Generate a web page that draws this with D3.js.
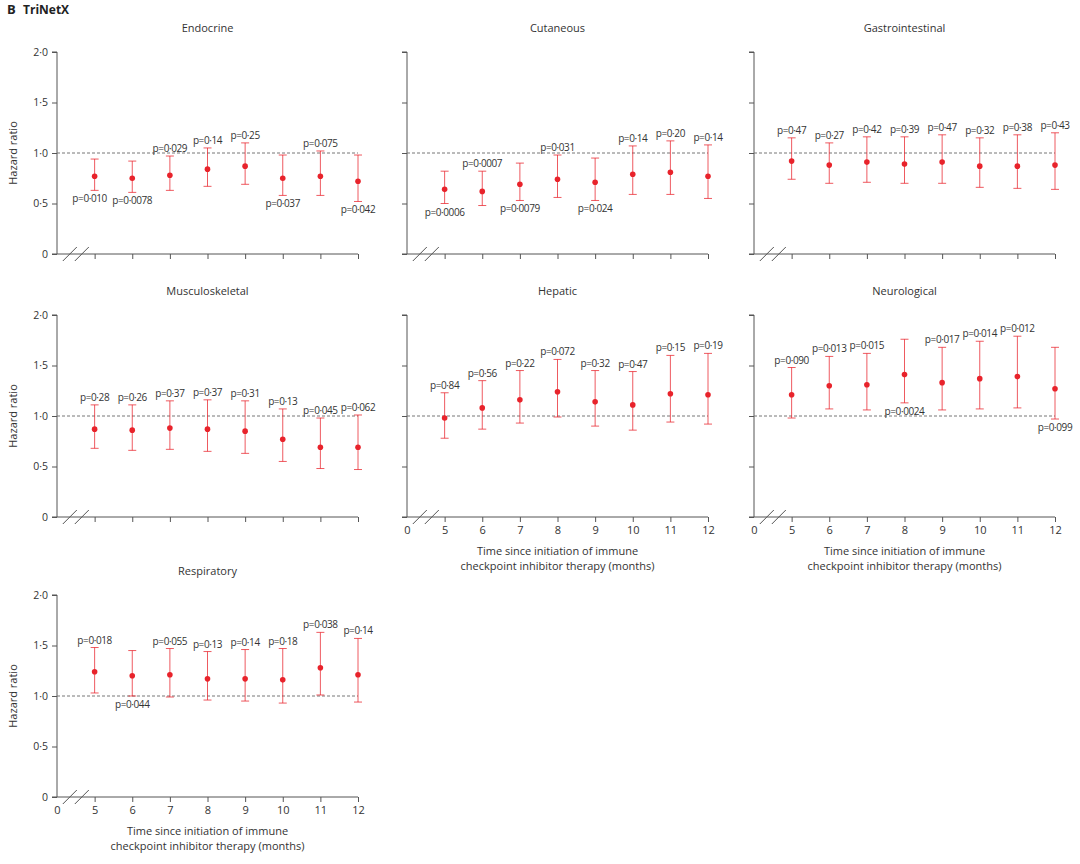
<!DOCTYPE html>
<html><head><meta charset="utf-8">
<script src="https://cdn.jsdelivr.net/npm/d3@7"></script>
<style>body{margin:0;background:#fff;font-family:"Open Sans",sans-serif;}</style>
</head><body>
<svg id="c" width="1080" height="864"></svg>
<script>
// data: months, HR, CI bounds, p-labels, label position (1 above, 0 below)
var months = [5, 6, 7, 8, 9, 10, 11, 12];
var yTicks = [0, 0.5, 1.0, 1.5, 2.0];
var xTicks = [0, 5, 6, 7, 8, 9, 10, 11, 12];

var titles = ['Endocrine', 'Cutaneous', 'Gastrointestinal', 'Musculoskeletal', 'Hepatic', 'Neurological', 'Respiratory'];
var hr = [
  [0.77, 0.75, 0.78, 0.84, 0.87, 0.75, 0.77, 0.72],
  [0.64, 0.62, 0.69, 0.74, 0.71, 0.79, 0.81, 0.77],
  [0.92, 0.88, 0.91, 0.89, 0.91, 0.87, 0.87, 0.88],
  [0.87, 0.86, 0.88, 0.87, 0.85, 0.77, 0.69, 0.69],
  [0.98, 1.08, 1.16, 1.24, 1.14, 1.11, 1.22, 1.21],
  [1.21, 1.30, 1.31, 1.41, 1.33, 1.37, 1.39, 1.27],
  [1.24, 1.20, 1.21, 1.17, 1.17, 1.16, 1.28, 1.21]
];
var lo = [
  [0.63, 0.61, 0.63, 0.67, 0.69, 0.58, 0.58, 0.52],
  [0.50, 0.48, 0.53, 0.56, 0.53, 0.59, 0.59, 0.55],
  [0.74, 0.70, 0.71, 0.70, 0.70, 0.66, 0.65, 0.64],
  [0.68, 0.66, 0.67, 0.65, 0.63, 0.55, 0.48, 0.47],
  [0.78, 0.87, 0.93, 0.99, 0.90, 0.86, 0.94, 0.92],
  [0.98, 1.07, 1.06, 1.13, 1.06, 1.07, 1.08, 0.97],
  [1.03, 1.00, 0.99, 0.96, 0.95, 0.93, 1.01, 0.94]
];
var hi = [
  [0.94, 0.92, 0.97, 1.05, 1.10, 0.98, 1.02, 0.98],
  [0.82, 0.82, 0.90, 0.98, 0.95, 1.07, 1.12, 1.08],
  [1.15, 1.10, 1.16, 1.16, 1.18, 1.15, 1.18, 1.20],
  [1.11, 1.11, 1.15, 1.16, 1.15, 1.07, 0.98, 1.01],
  [1.23, 1.35, 1.45, 1.56, 1.45, 1.44, 1.60, 1.62],
  [1.48, 1.59, 1.62, 1.76, 1.68, 1.74, 1.79, 1.68],
  [1.48, 1.45, 1.47, 1.44, 1.46, 1.47, 1.63, 1.57]
];
var pLabels = [
  ['p=0·010', 'p=0·0078', 'p=0·029', 'p=0·14', 'p=0·25', 'p=0·037', 'p=0·075', 'p=0·042'],
  ['p=0·0006', 'p=0·0007', 'p=0·0079', 'p=0·031', 'p=0·024', 'p=0·14', 'p=0·20', 'p=0·14'],
  ['p=0·47', 'p=0·27', 'p=0·42', 'p=0·39', 'p=0·47', 'p=0·32', 'p=0·38', 'p=0·43'],
  ['p=0·28', 'p=0·26', 'p=0·37', 'p=0·37', 'p=0·31', 'p=0·13', 'p=0·045', 'p=0·062'],
  ['p=0·84', 'p=0·56', 'p=0·22', 'p=0·072', 'p=0·32', 'p=0·47', 'p=0·15', 'p=0·19'],
  ['p=0·090', 'p=0·013', 'p=0·015', 'p=0·0024', 'p=0·017', 'p=0·014', 'p=0·012', 'p=0·099'],
  ['p=0·018', 'p=0·044', 'p=0·055', 'p=0·13', 'p=0·14', 'p=0·18', 'p=0·038', 'p=0·14']
];
var pAbove = [
  [0, 0, 1, 1, 1, 0, 1, 0],
  [0, 1, 0, 1, 0, 1, 1, 1],
  [1, 1, 1, 1, 1, 1, 1, 1],
  [1, 1, 1, 1, 1, 1, 1, 1],
  [1, 1, 1, 1, 1, 1, 1, 1],
  [1, 1, 1, 0, 1, 1, 1, 0],
  [1, 0, 1, 1, 1, 1, 1, 1]
];
var showXLabels = [false, false, false, false, true, true, true];

// layout
var colX = [57, 407, 754];   // y-axis x position per column
var rowY = [52, 315, 595];   // top (HR 2.0) per row
var pw = 301, ph = 202;
var red = '#e8232b', gray = '#555';
var fmt = d => d === 0 ? '0' : d.toFixed(1).replace('.', '·');

var svg = d3.select('#c');
svg.append('text').attr('x', 7).attr('y', 14).attr('font-size', 13).attr('font-weight', 'bold')
    .attr('fill', '#222').text('B');
svg.append('text').attr('x', 23).attr('y', 14).attr('font-size', 12).attr('font-weight', 'bold')
    .attr('fill', '#222').text('TriNetX');

titles.forEach(function(title, k){
  var col = k % 3;
  var g = svg.append('g').attr('transform', `translate(${colX[col]}, ${rowY[Math.floor(k / 3)]})`);
  var x = d3.scalePoint().domain(xTicks).range([0, pw]);
  var y = d3.scaleLinear().domain([0, 2]).range([ph, 0]);

  g.append('text').attr('x', pw / 2).attr('y', -20).attr('text-anchor', 'middle')
      .attr('font-size', 11).attr('fill', '#333').text(title);

  // y axis (labels only in first column)
  var ya = g.append('g').call(d3.axisLeft(y).tickValues(yTicks).tickFormat(d => col === 0 ? fmt(d) : '').tickSize(5).tickPadding(4));
  ya.select('.domain').attr('stroke', gray).attr('d', `M-5,0H0V${ph}H-5`);
  ya.selectAll('.tick line').attr('stroke', gray);
  ya.selectAll('text').attr('font-size', 10.5).attr('fill', '#333').attr('font-family', '"Open Sans",sans-serif');
  if(col === 0)
    g.append('text').attr('transform', 'rotate(-90)').attr('x', -ph / 2).attr('y', -40)
        .attr('text-anchor', 'middle').attr('font-size', 11).attr('fill', '#333').text('Hazard ratio');

  // x axis
  var xa = g.append('g').attr('transform', `translate(0, ${ph})`)
      .call(d3.axisBottom(x).tickSize(5).tickPadding(4).tickFormat(d => showXLabels[k] ? d : ''));
  xa.select('.domain').attr('stroke', gray).attr('d', `M0,0H${pw}`);
  xa.selectAll('.tick line').attr('stroke', gray);
  xa.selectAll('text').attr('font-size', 11).attr('fill', '#333').attr('font-family', '"Open Sans",sans-serif');
  xa.selectAll('.tick').filter(d => d === 0).select('line').remove();
  // axis break
  var bx = (x(0) + x(5)) / 2;
  [-6, 6].forEach(function(o){
    xa.append('line').attr('x1', bx + o - 7).attr('y1', 7).attr('x2', bx + o + 7).attr('y2', -7)
        .attr('stroke', gray).attr('stroke-width', 1);
  });
  if(showXLabels[k]){
    ['Time since initiation of immune', 'checkpoint inhibitor therapy (months)'].forEach(function(t, i){
      g.append('text').attr('x', x(8)).attr('y', ph + 38 + i * 15).attr('text-anchor', 'middle')
          .attr('font-size', 11).attr('fill', '#333').text(t);
    });
  }

  // reference line
  g.append('line').attr('x1', 0).attr('x2', pw).attr('y1', y(1)).attr('y2', y(1))
      .attr('stroke', '#777').attr('stroke-dasharray', '3,2');

  var pts = months.map((m, i) => ({m: m, hr: hr[k][i], lo: lo[k][i], hi: hi[k][i], p: pLabels[k][i], up: pAbove[k][i]}));
  var pg = g.append('g').selectAll('g').data(pts).enter().append('g');
  pg.append('line').attr('x1', d => x(d.m)).attr('x2', d => x(d.m))
      .attr('y1', d => y(d.lo)).attr('y2', d => y(d.hi)).attr('stroke', red).attr('stroke-opacity', 0.75);
  ['lo', 'hi'].forEach(function(b){
    pg.append('line').attr('x1', d => x(d.m) - 4).attr('x2', d => x(d.m) + 4)
        .attr('y1', d => y(d[b])).attr('y2', d => y(d[b])).attr('stroke', red).attr('stroke-opacity', 0.75);
  });
  pg.append('circle').attr('cx', d => x(d.m)).attr('cy', d => y(d.hr)).attr('r', 2.8).attr('fill', red);
  pg.append('text').attr('x', d => x(d.m)).attr('y', d => d.up ? y(d.hi) - 4 : y(d.lo) + 12)
      .attr('dx', (d, i) => (k === 0 && i === 0) ? -5 : 0)
      .attr('text-anchor', 'middle').attr('font-size', 10).attr('letter-spacing', -0.4)
      .attr('fill', '#333').text(d => d.p);
});
</script>
</body></html>
